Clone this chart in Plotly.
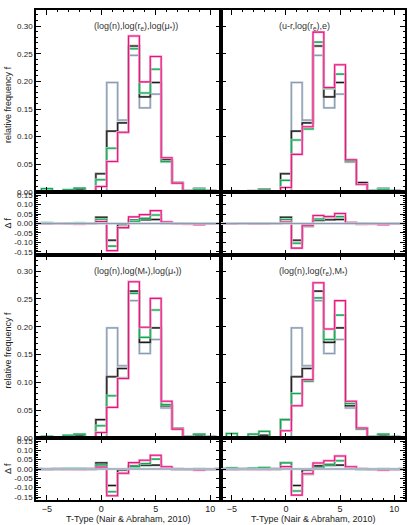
import plotly.graph_objects as go

# T-type bin centres (bins of width 1, edges at half-integers)
ttype = list(range(-6, 12))

# reference distribution (grey) and baseline (black) – same in all panels
f_gray = [0, 0.002, 0, 0.002, 0.004, 0, 0.0, 0.198, 0.130, 0.247, 0.152, 0.177, 0.054, 0.017, 0.003, 0.007, 0.003, 0]
f_black = [0, 0.0, 0, 0.002, 0.005, 0, 0.033, 0.110, 0.125, 0.264, 0.172, 0.198, 0.058, 0.017, 0.002, 0.005, 0.002, 0]

# panel 1: (log(n),log(re),log(mu*))
p1_green = [0, 0.006, 0, 0.004, 0.007, 0, 0.022, 0.079, 0.108, 0.259, 0.179, 0.222, 0.055, 0.016, 0.002, 0.005, 0.001, 0]
p1_pink = [0, 0.0, 0, 0.001, 0.001, 0, 0.010, 0.055, 0.108, 0.282, 0.199, 0.245, 0.062, 0.016, 0.0, 0.001, 0.001, 0]
# panel 2: (u-r,log(re),e)
p2_green = [0, 0.001, 0, 0.001, 0.004, 0, 0.021, 0.094, 0.114, 0.271, 0.187, 0.213, 0.056, 0.014, 0.002, 0.005, 0.002, 0]
p2_pink = [0, 0.0, 0, 0.0, 0.002, 0, 0.008, 0.068, 0.118, 0.289, 0.189, 0.230, 0.058, 0.014, 0.0, 0.001, 0.001, 0]
# panel 3: (log(n),log(M*),log(mu*))
p3_green = [0, 0.003, 0, 0.005, 0.007, 0, 0.022, 0.076, 0.108, 0.260, 0.181, 0.230, 0.060, 0.016, 0.002, 0.007, 0.002, 0]
p3_pink = [0, 0.0, 0, 0.0, 0.001, 0, 0.010, 0.055, 0.107, 0.281, 0.199, 0.251, 0.066, 0.016, 0.001, 0.002, 0.001, 0]
# panel 4: (log(n),log(re),M*)
p4_green = [0, 0.008, 0, 0.007, 0.012, 0, 0.033, 0.080, 0.102, 0.252, 0.177, 0.221, 0.062, 0.016, 0.002, 0.007, 0.002, 0]
p4_pink = [0, 0.0, 0, 0.0, 0.001, 0, 0.013, 0.058, 0.105, 0.279, 0.196, 0.247, 0.066, 0.018, 0.001, 0.002, 0.001, 0]

panel_titles = [
    "(log(n),log(r<sub>e</sub>),log(μ<sub>*</sub>))",
    "(u-r,log(r<sub>e</sub>),e)",
    "(log(n),log(M<sub>*</sub>),log(μ<sub>*</sub>))",
    "(log(n),log(r<sub>e</sub>),M<sub>*</sub>)",
]
greens = [p1_green, p2_green, p3_green, p4_green]
pinks = [p1_pink, p2_pink, p3_pink, p4_pink]

x_ticks = [-5, 0, 5, 10]
f_ticks = [0.0, 0.05, 0.10, 0.15, 0.20, 0.25, 0.30]
df_ticks = [-0.15, -0.10, -0.05, 0.0, 0.05, 0.10, 0.15]

COL = {
    "gray": ("#8b9cb1", "#c9d2dd"),
    "black": ("#1a1a1a", "#9a9a9a"),
    "green": ("#17a356", "#93dbb0"),
    "pink": ("#e8137f", "#f7a3cc"),
}
FONT = "Liberation Sans, Arial, sans-serif"

fig = go.Figure()

col_dom = [[0.0, 0.5014], [0.5014, 1.0]]
row_dom = {0: ([0.6286, 1.0], [0.5, 0.6286]), 1: ([0.1265, 0.5], [0.0, 0.1265])}


def add_line(y, color, xa, ya):
    core, halo = COL[color]
    fig.add_trace(go.Scatter(x=ttype, y=y, mode="lines", line=dict(color=halo, width=2.4, shape="hvh"),
                             xaxis=xa, yaxis=ya, showlegend=False, hoverinfo="skip"))
    fig.add_trace(go.Scatter(x=ttype, y=y, mode="lines", line=dict(color=core, width=1.1, shape="hvh"),
                             xaxis=xa, yaxis=ya, showlegend=False, hoverinfo="skip"))


layout = {}
annotations = []
for p in range(4):
    block, col = divmod(p, 2)
    up = 2 * p + 1
    rs = 2 * p + 2
    xu, yu = f"x{up}", f"y{up}"
    xr, yr = f"x{rs}", f"y{rs}"
    # upper: relative frequency
    for name, ys in (("gray", f_gray), ("black", f_black), ("green", greens[p]), ("pink", pinks[p])):
        add_line(ys, name, xu, yu)
    # lower: difference to reference
    for name, ys in (("black", f_black), ("green", greens[p]), ("pink", pinks[p]), ("gray", f_gray)):
        diff = [a - b for a, b in zip(ys, f_gray)]
        add_line(diff, name, xr, yr)

    common_x = dict(range=[-6, 11], tickvals=x_ticks, ticks="inside", ticklen=5, tickwidth=1.2,
                    tickcolor="black", mirror="allticks", showline=True, linecolor="black", linewidth=1.6,
                    showgrid=False, zeroline=False, automargin=False, ticklabelstandoff=-1,
                    minor=dict(ticks="inside", dtick=1, tick0=0, ticklen=2.5, tickwidth=1, tickcolor="black"),
                    tickfont=dict(family=FONT, size=9, color="#222"))
    common_y = dict(ticks="inside", ticklen=5, tickwidth=1.2, tickcolor="black", mirror="allticks",
                    showline=True, linecolor="black", linewidth=1.6, showgrid=False, zeroline=False,
                    automargin=False,
                    tickfont=dict(family=FONT, size=8, color="#222"),
                    minor=dict(ticks="inside", dtick=0.01, tick0=0, ticklen=2.5, tickwidth=1, tickcolor="black"))
    layout[f"xaxis{up}"] = dict(common_x, domain=col_dom[col], anchor=yu, showticklabels=False)
    layout[f"xaxis{rs}"] = dict(common_x, domain=col_dom[col], anchor=yr, showticklabels=(block == 1))
    layout[f"yaxis{up}"] = dict(common_y, domain=row_dom[block][0], anchor=xu, range=[0, 0.329],
                                tickvals=f_ticks, ticktext=[f"{v:.2f}" for v in f_ticks],
                                showticklabels=(col == 0))
    layout[f"yaxis{rs}"] = dict(common_y, domain=row_dom[block][1], anchor=xr, range=[-0.166, 0.166],
                                tickvals=df_ticks, ticktext=[f"{v:.2f}" for v in df_ticks],
                                showticklabels=(col == 0))
    annotations.append(dict(text=panel_titles[p], x=-0.85, y=0.30, xref=xu, yref=yu, xanchor="left",
                            yanchor="middle", showarrow=False, font=dict(family=FONT, size=9, color="#333")))

# axis titles
ylab_x = (8 - 36) / 369
for block in (0, 1):
    ud, rd = row_dom[block]
    annotations.append(dict(text="relative frequency f", x=ylab_x, y=(ud[0] + ud[1]) / 2 - 0.008,
                            xref="paper", yref="paper", textangle=-90, showarrow=False, xanchor="center",
                            yanchor="middle", font=dict(family=FONT, size=9, color="#222")))
    annotations.append(dict(text="Δ f", x=ylab_x, y=(rd[0] + rd[1]) / 2, xref="paper", yref="paper",
                            textangle=-90, showarrow=False, xanchor="center", yanchor="middle",
                            font=dict(family=FONT, size=9, color="#222")))
for cx in (0.25, 0.752):
    annotations.append(dict(text="T-Type (Nair &amp; Abraham, 2010)", x=cx, y=-0.0395, xref="paper", yref="paper",
                            showarrow=False, xanchor="center", yanchor="middle",
                            font=dict(family=FONT, size=9, color="#222")))

fig.update_layout(**layout)
fig.update_layout(template="none", width=415, height=525, margin=dict(l=36, r=10, t=10, b=25, pad=0),
                  paper_bgcolor="white", plot_bgcolor="white", annotations=annotations,
                  font=dict(family=FONT, size=9, color="#222"))

# remove the page's default 8px body margin so the figure fills the window exactly
fig.write_html("out.html", config={"displayModeBar": False},
               post_script="document.body.style.margin='0';")
